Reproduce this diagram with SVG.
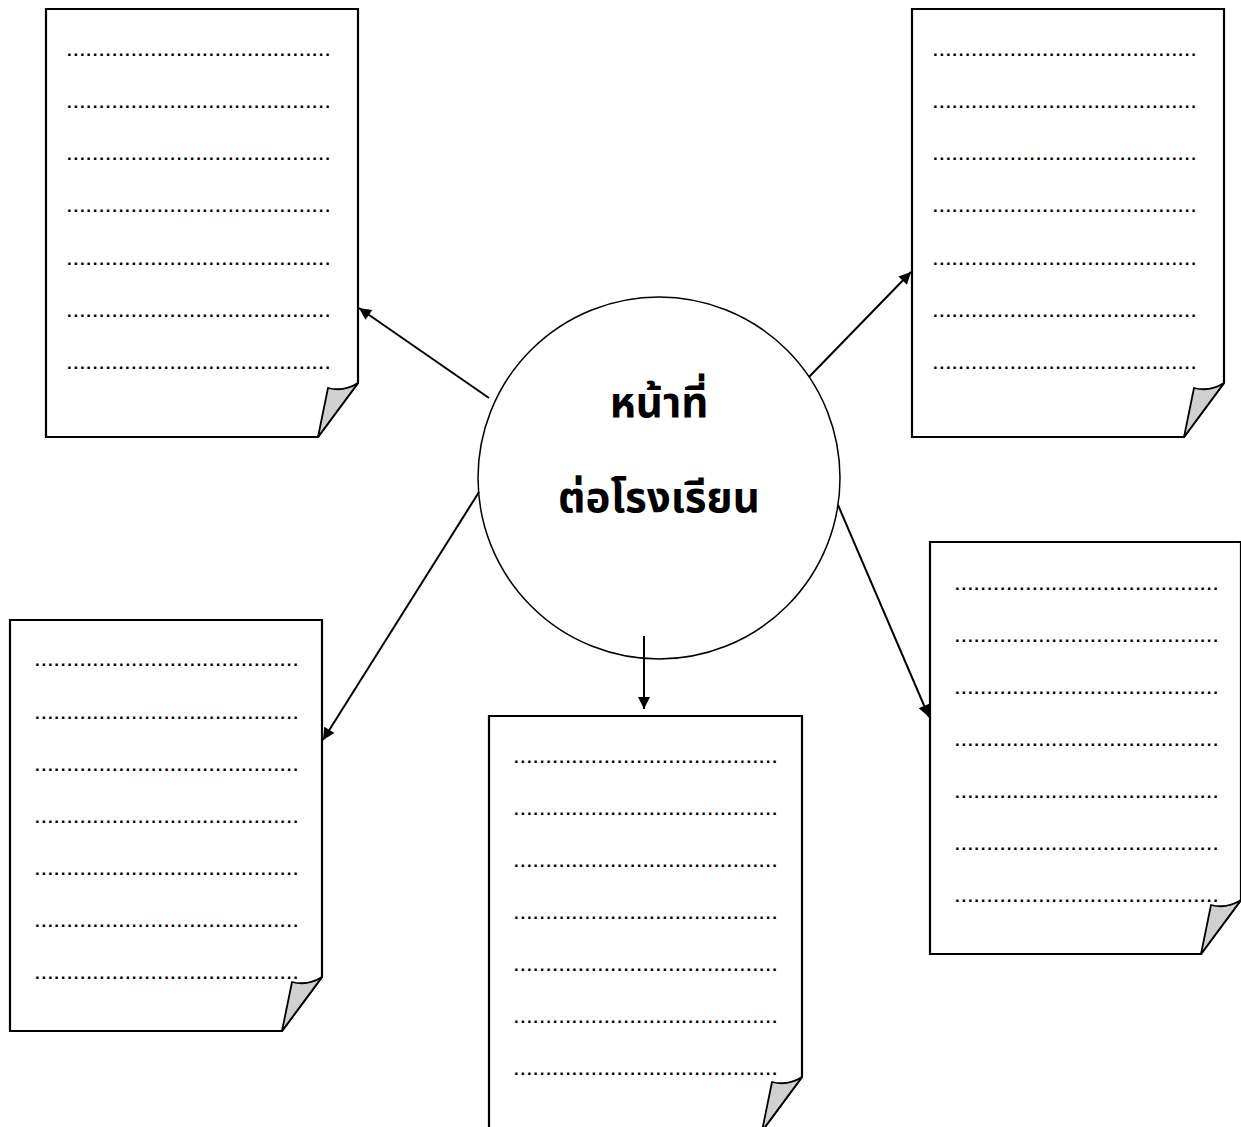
<svg xmlns="http://www.w3.org/2000/svg" width="1241" height="1127" viewBox="0 0 1241 1127">
<defs>
<style>
.page{fill:#fff;stroke:#000;stroke-width:2.2}
.fold{fill:#d0d0d0;stroke:#000;stroke-width:1.8;stroke-linejoin:round}
.dots{font-family:"Liberation Sans",sans-serif;font-size:17px;font-weight:bold;fill:#000}
.conn{stroke:#000;stroke-width:2;fill:none}
.title{font-family:"Noto Sans Thai","Noto Sans","Liberation Sans",sans-serif;font-size:42px;font-weight:bold;fill:#000;text-anchor:middle}
</style>
<marker id="ah" viewBox="0 0 10 10" refX="10" refY="5" markerWidth="7" markerHeight="6" markerUnits="strokeWidth" orient="auto">
<path d="M0,0 L10,5 L0,10 Z" fill="#000"/>
</marker>
</defs>
<rect width="1241" height="1127" fill="#fff"/>

<g id="doc-top-left">
<path class="page" d="M46,9 H358 V383 L318,437 H46 Z"/>
<path class="fold" d="M328,388 Q344,392 358,383 L318,437 Z"/>
<g class="dots">
<text x="67" y="56" textLength="263" lengthAdjust="spacing">.........................................</text>
<text x="67" y="108" textLength="263" lengthAdjust="spacing">.........................................</text>
<text x="67" y="160" textLength="263" lengthAdjust="spacing">.........................................</text>
<text x="67" y="212" textLength="263" lengthAdjust="spacing">.........................................</text>
<text x="67" y="265" textLength="263" lengthAdjust="spacing">.........................................</text>
<text x="67" y="317" textLength="263" lengthAdjust="spacing">.........................................</text>
<text x="67" y="369" textLength="263" lengthAdjust="spacing">.........................................</text>
</g>
</g>

<g id="doc-top-right">
<path class="page" d="M912,9 H1224 V383 L1184,437 H912 Z"/>
<path class="fold" d="M1194,388 Q1210,392 1224,383 L1184,437 Z"/>
<g class="dots">
<text x="933" y="56" textLength="263" lengthAdjust="spacing">.........................................</text>
<text x="933" y="108" textLength="263" lengthAdjust="spacing">.........................................</text>
<text x="933" y="160" textLength="263" lengthAdjust="spacing">.........................................</text>
<text x="933" y="212" textLength="263" lengthAdjust="spacing">.........................................</text>
<text x="933" y="265" textLength="263" lengthAdjust="spacing">.........................................</text>
<text x="933" y="317" textLength="263" lengthAdjust="spacing">.........................................</text>
<text x="933" y="369" textLength="263" lengthAdjust="spacing">.........................................</text>
</g>
</g>

<g id="doc-bottom-left">
<path class="page" d="M10,620 H322 V977 L282,1031 H10 Z"/>
<path class="fold" d="M292,982 Q308,986 322,977 L282,1031 Z"/>
<g class="dots">
<text x="35" y="666" textLength="263" lengthAdjust="spacing">.........................................</text>
<text x="35" y="719" textLength="263" lengthAdjust="spacing">.........................................</text>
<text x="35" y="771" textLength="263" lengthAdjust="spacing">.........................................</text>
<text x="35" y="823" textLength="263" lengthAdjust="spacing">.........................................</text>
<text x="35" y="875" textLength="263" lengthAdjust="spacing">.........................................</text>
<text x="35" y="927" textLength="263" lengthAdjust="spacing">.........................................</text>
<text x="35" y="979" textLength="263" lengthAdjust="spacing">.........................................</text>
</g>
</g>

<g id="doc-bottom-center">
<path class="page" d="M489,716 H802 V1077 L762,1131 H489 Z"/>
<path class="fold" d="M772,1082 Q788,1086 802,1077 L762,1131 Z"/>
<g class="dots">
<text x="514" y="763" textLength="263" lengthAdjust="spacing">.........................................</text>
<text x="514" y="815" textLength="263" lengthAdjust="spacing">.........................................</text>
<text x="514" y="867" textLength="263" lengthAdjust="spacing">.........................................</text>
<text x="514" y="919" textLength="263" lengthAdjust="spacing">.........................................</text>
<text x="514" y="971" textLength="263" lengthAdjust="spacing">.........................................</text>
<text x="514" y="1023" textLength="263" lengthAdjust="spacing">.........................................</text>
<text x="514" y="1075" textLength="263" lengthAdjust="spacing">.........................................</text>
</g>
</g>

<g id="doc-right">
<path class="page" d="M930,542 H1241 V900 L1201,954 H930 Z"/>
<path class="fold" d="M1211,905 Q1227,909 1241,900 L1201,954 Z"/>
<g class="dots">
<text x="955" y="590" textLength="263" lengthAdjust="spacing">.........................................</text>
<text x="955" y="642" textLength="263" lengthAdjust="spacing">.........................................</text>
<text x="955" y="694" textLength="263" lengthAdjust="spacing">.........................................</text>
<text x="955" y="746" textLength="263" lengthAdjust="spacing">.........................................</text>
<text x="955" y="798" textLength="263" lengthAdjust="spacing">.........................................</text>
<text x="955" y="850" textLength="263" lengthAdjust="spacing">.........................................</text>
<text x="955" y="902" textLength="263" lengthAdjust="spacing">.........................................</text>
</g>
</g>

<g id="center">
<circle cx="659" cy="478" r="181" fill="#fff" stroke="#000" stroke-width="1.5"/>
<text class="title" x="659" y="417">หน้าที่</text>
<text class="title" x="659" y="512">ต่อโรงเรียน</text>
</g>

<g id="connectors">
<line class="conn" x1="489" y1="398" x2="359" y2="308" marker-end="url(#ah)"/>
<line class="conn" x1="809" y1="377" x2="911" y2="272" marker-end="url(#ah)"/>
<line class="conn" x1="479" y1="492" x2="323" y2="740" marker-end="url(#ah)"/>
<line class="conn" x1="644" y1="636" x2="644" y2="709" marker-end="url(#ah)"/>
<line class="conn" x1="838" y1="505" x2="929" y2="717" marker-end="url(#ah)"/>
</g>
</svg>
